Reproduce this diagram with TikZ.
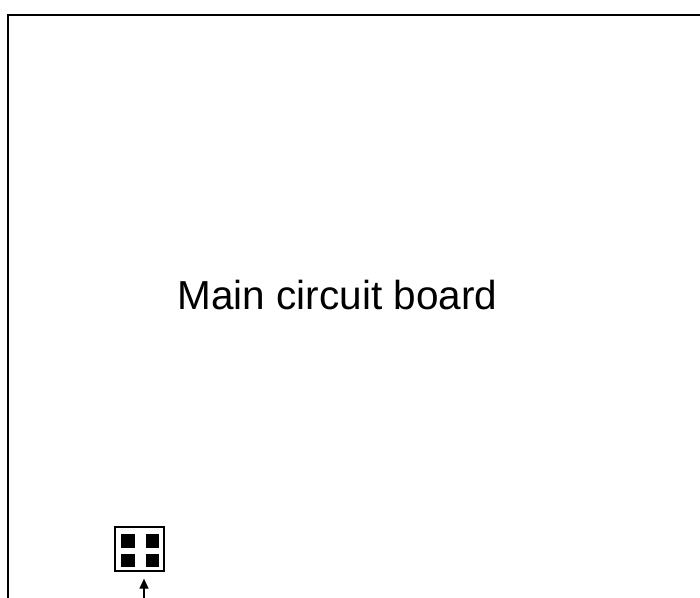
\documentclass[tikz,border=0pt]{standalone}
\usepackage{fontspec}
\setmainfont{Liberation Sans}
\usetikzlibrary{arrows.meta}
\begin{document}
\begin{tikzpicture}[x=1pt,y=1pt,
  board/.style={draw=black,line width=2pt},
  connbox/.style={draw=black,line width=1.3pt,minimum width=49pt,minimum height=44pt,inner sep=0pt},
  pin/.style={fill=black},
  sig/.style={draw=black,line width=1.3pt,-{Triangle[length=10pt,width=9pt]}}]
\useasboundingbox (0,0) rectangle (700,597);
\clip (0,0) rectangle (700,597);
\draw[board] (8,-10) -- (8,582) -- (710,582);
\node[font=\fontsize{40.5}{46}\selectfont,anchor=base] (label) at (337.5,287) {Main circuit board};
\node[connbox] (conn) at (139.5,48) {};
\fill[pin] (121,63) rectangle (134.5,49);
\fill[pin] (145.5,63) rectangle (159,49);
\fill[pin] (121,43.5) rectangle (134.5,30);
\fill[pin] (145.5,43.5) rectangle (159,30);
\coordinate (src) at (144,-2);
\draw[sig] (src) -- ([yshift=-7pt]conn.south -| src);
\end{tikzpicture}
\end{document}
